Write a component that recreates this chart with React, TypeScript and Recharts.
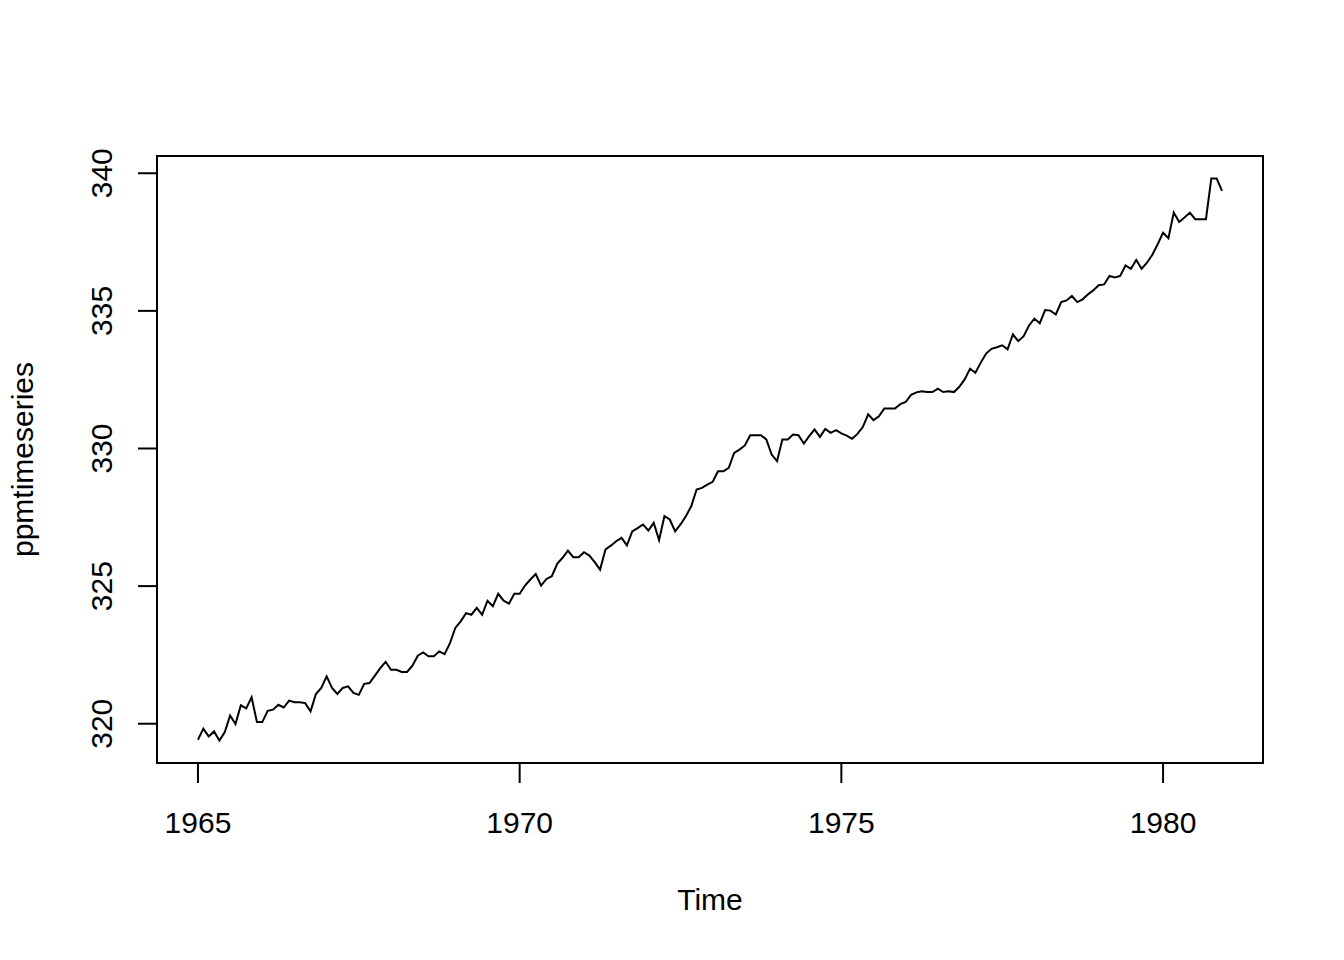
import { LineChart, Line, XAxis, YAxis, ReferenceArea } from 'recharts';

// monthly CO2 (ppm), one array per year
const ppm1965 = [319.42, 319.82, 319.54, 319.72, 319.39, 319.7, 320.3, 319.99, 320.67, 320.56, 320.96, 320.06];
const ppm1966 = [320.06, 320.47, 320.51, 320.69, 320.59, 320.84, 320.78, 320.78, 320.75, 320.45, 321.08, 321.3];
const ppm1967 = [321.72, 321.3, 321.08, 321.3, 321.36, 321.12, 321.05, 321.45, 321.48, 321.75, 322.02, 322.25];
const ppm1968 = [321.96, 321.96, 321.88, 321.88, 322.11, 322.47, 322.59, 322.45, 322.45, 322.63, 322.53, 322.93];
const ppm1969 = [323.48, 323.72, 324.02, 323.96, 324.21, 323.96, 324.47, 324.27, 324.72, 324.47, 324.36, 324.72];
const ppm1970 = [324.72, 325.02, 325.24, 325.44, 325.02, 325.26, 325.36, 325.81, 326.03, 326.29, 326.05, 326.05];
const ppm1971 = [326.23, 326.11, 325.87, 325.6, 326.33, 326.47, 326.63, 326.75, 326.48, 326.99, 327.11, 327.24];
const ppm1972 = [327.02, 327.3, 326.67, 327.54, 327.42, 326.99, 327.24, 327.54, 327.9, 328.51, 328.57, 328.69];
const ppm1973 = [328.79, 329.17, 329.17, 329.3, 329.84, 329.96, 330.11, 330.48, 330.48, 330.48, 330.33, 329.78];
const ppm1974 = [329.54, 330.33, 330.33, 330.51, 330.48, 330.18, 330.45, 330.69, 330.42, 330.71, 330.57, 330.67];
const ppm1975 = [330.55, 330.47, 330.35, 330.53, 330.78, 331.24, 331.03, 331.17, 331.45, 331.45, 331.45, 331.61];
const ppm1976 = [331.69, 331.95, 332.04, 332.08, 332.05, 332.05, 332.17, 332.05, 332.08, 332.05, 332.24, 332.51];
const ppm1977 = [332.9, 332.75, 333.12, 333.45, 333.62, 333.68, 333.75, 333.6, 334.15, 333.9, 334.08, 334.47];
const ppm1978 = [334.72, 334.55, 335.03, 335.01, 334.87, 335.32, 335.38, 335.54, 335.32, 335.42, 335.6, 335.75];
const ppm1979 = [335.93, 335.96, 336.27, 336.21, 336.27, 336.65, 336.53, 336.85, 336.53, 336.75, 337.04, 337.42];
const ppm1980 = [337.84, 337.64, 338.57, 338.23, 338.39, 338.57, 338.33, 338.33, 338.33, 339.81, 339.81, 339.36];

const startYear = 1965;
const years = [ppm1965, ppm1966, ppm1967, ppm1968, ppm1969, ppm1970, ppm1971, ppm1972,
  ppm1973, ppm1974, ppm1975, ppm1976, ppm1977, ppm1978, ppm1979, ppm1980];

const xTicks = [1965, 1970, 1975, 1980];
const yTicks = [320, 325, 330, 335, 340];

const data = years.flatMap((vals, yi) =>
  vals.map((v, m) => ({ t: startYear + yi + m / 12, ppm: v }))
);

// R-style 4% padding on both axes
const tMin = data[0].t;
const tMax = data[data.length - 1].t;
const vMin = Math.min(...data.map((d) => d.ppm));
const vMax = Math.max(...data.map((d) => d.ppm));
const xDom: [number, number] = [tMin - 0.04 * (tMax - tMin), tMax + 0.04 * (tMax - tMin)];
const yDom: [number, number] = [vMin - 0.04 * (vMax - vMin), vMax + 0.04 * (vMax - vMin)];

const FONT = '"Liberation Sans", Arial, sans-serif';

const XTick = (props: any) => (
  <text x={props.x} y={props.y + 48} textAnchor="middle" fontSize={30} fill="#000" fontFamily={FONT}>
    {props.payload.value}
  </text>
);

const YTick = (props: any) => {
  const x = props.x - 24;
  return (
    <text x={x} y={props.y} transform={`rotate(-90, ${x}, ${props.y})`} textAnchor="middle"
      fontSize={30} fill="#000" fontFamily={FONT}>
      {props.payload.value}
    </text>
  );
};

export default function App() {
  return (
    <div style={{ fontFamily: FONT, background: '#fff' }}>
      <LineChart width={1328} height={944} data={data} margin={{ top: 148, right: 73, bottom: 0, left: 0 }}>
        <XAxis
          dataKey="t"
          type="number"
          domain={xDom}
          allowDataOverflow
          ticks={xTicks}
          tick={<XTick />}
          tickSize={20}
          tickLine={{ stroke: '#000', strokeWidth: 2 }}
          axisLine={false}
          height={189}
          label={{
            content: (p: any) => (
              <text x={p.viewBox.x + p.viewBox.width / 2} y={p.viewBox.y + 147} textAnchor="middle"
                fontSize={30} fill="#000" fontFamily={FONT}>Time</text>
            ),
          }}
        />
        <YAxis
          type="number"
          domain={yDom}
          allowDataOverflow
          ticks={yTicks}
          tick={<YTick />}
          tickSize={19}
          tickLine={{ stroke: '#000', strokeWidth: 2 }}
          axisLine={false}
          width={149}
          label={{
            content: (p: any) => {
              const cy = p.viewBox.y + p.viewBox.height / 2;
              return (
                <text x={25} y={cy} transform={`rotate(-90, 25, ${cy})`} textAnchor="middle"
                  fontSize={30} fill="#000" fontFamily={FONT}>ppmtimeseries</text>
              );
            },
          }}
        />
        <ReferenceArea x1={xDom[0]} x2={xDom[1]} y1={yDom[0]} y2={yDom[1]}
          fill="none" stroke="#000" strokeWidth={2} ifOverflow="visible" />
        <Line type="linear" dataKey="ppm" stroke="#000" strokeWidth={2} dot={false} isAnimationActive={false} />
      </LineChart>
    </div>
  );
}
